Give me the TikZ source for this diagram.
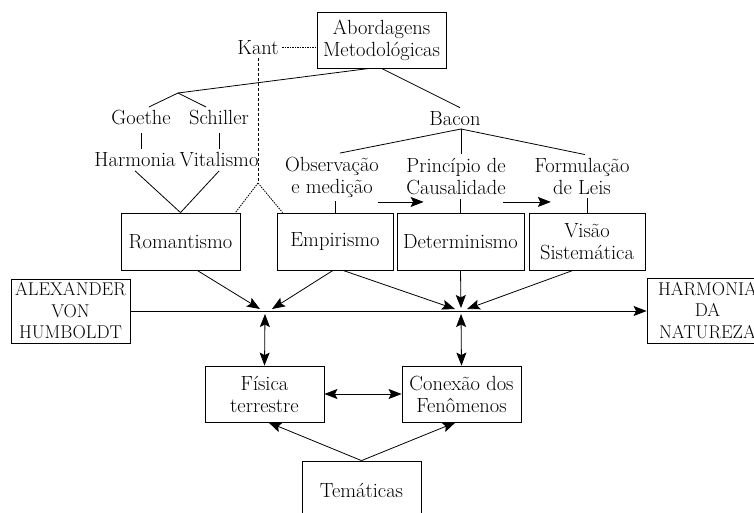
\documentclass[tikz,border=0pt]{standalone}
\usepackage{fontspec}
\usepackage{tikz}
\usetikzlibrary{arrows.meta,positioning,calc}

\begin{document}
\begin{tikzpicture}[x=1pt, y=-1pt, line width=0.8pt,
    every node/.style={font=\fontsize{20.5}{22}\selectfont, align=center},
    box/.style={draw, minimum width=119pt, minimum height=57pt, inner sep=3pt},
    caps/.style={font=\fontsize{18.5}{21.5}\selectfont},
    arr/.style={-{Stealth[length=13pt,width=10pt,inset=2.5pt]}},
    dbl/.style={{Stealth[length=13pt,width=10pt,inset=2.5pt]}-{Stealth[length=13pt,width=10pt,inset=2.5pt]}},
    kantdash/.style={dash pattern=on 3pt off 2pt},
    kantdot/.style={dash pattern=on 1.5pt off 1pt}]
    \useasboundingbox (0,0) rectangle (754,513);
    \clip (0,0) rectangle (754,513);

    % Top
    \node[box, minimum width=129pt, minimum height=56pt] (abm) at (381.5,40) {Abordagens\\Metodológicas};
    \node (kant) at (258,47.5) {Kant};
    \draw[kantdot] (kant.east) -- (kant.east -| abm.west);

    % Romantic branch
    \node (goe) at (141,118) {Goethe};
    \node (sch) at (219,118) {Schiller};
    \node (har) at (135,160) {Harmonia};
    \node (vit) at (219,160) {Vitalismo};
    \coordinate (gs) at (178,93);
    \draw ([xshift=-12]abm.south) -- (gs);
    \draw (gs) -- ([xshift=8]goe.north);
    \draw (gs) -- ([xshift=-13]sch.north);
    \draw[shorten <=4pt] (goe.south) -- (goe.south |- har.north);
    \draw[shorten <=4pt] (sch.south) -- (sch.south |- vit.north);

    % Bacon branch
    \node (bac) at (455,118.5) {Bacon};
    \node (obs) at (332,177) {Observação\\e medição};
    \node (pri) at (456,176.5) {Princípio de\\Causalidade};
    \node (frm) at (582,176.5) {Formulação\\de Leis};
    \coordinate (bc) at (461,129);
    \draw (abm.south) -- ([xshift=5]bac.north);
    \draw (bc) -- ([xshift=8]obs.north);
    \draw (bc) -- (bc |- pri.north);
    \draw (bc) -- ([xshift=3]frm.north);
    \coordinate (oa) at ([xshift=-5,yshift=-1]obs.south east);
    \coordinate (pa) at ([xshift=-6]oa -| pri.east);
    \draw[arr] (oa) -- ($(oa -| pri.west)+(21,0)$);
    \draw[arr] (pa) -- ($(pa -| frm.west)+(20,0)$);

    % Boxes
    \node[box] (roman) at (180.5,241.5) {Romantismo};
    \node[box, minimum width=116pt] (emp) at (335,241.5) {Empirismo};
    \node[box, minimum width=127pt] (det) at (460.5,241.5) {Determinismo};
    \node[box, minimum width=116pt] (vis) at (587,241.5) {Visão\\Sistemática};
    \draw (har.south) -- (roman.north);
    \draw (vit.south) -- (roman.north);
    \draw (emp.north) -- (emp.north |- obs.south);
    \draw (det.north) -- (det.north |- pri.south);
    \draw (vis.north) -- (vis.north |- frm.south);

    % Kant
    \coordinate (kd) at (258,183);
    \draw[kantdash] (kant.south) -- (kd);
    \draw[kantdot] (kd) -- ([xshift=-5]roman.north east);
    \draw[kantdot] (kd) -- ([xshift=6]emp.north west);

    % Humboldt line
    \node[box, caps, minimum height=64pt] (alx) at (70.5,311) {ALEXANDER\\VON\\HUMBOLDT};
    \node[box, caps, minimum width=121pt, minimum height=65pt] (hdn) at (707.5,310.5) {HARMONIA\\DA\\NATUREZA};
    \draw[arr] (alx.east) -- (alx.east -| hdn.west);
    \coordinate (jl) at (265,311);
    \coordinate (jr) at (461,311);
    \draw[arr] (roman.-60) -- ([xshift=-5,yshift=2]jl);
    \draw[arr] ([xshift=-2]emp.south) -- ([xshift=7,yshift=2]jl);
    \draw[arr] ([xshift=8]emp.south) -- ([xshift=-6,yshift=2]jr);
    \draw[arr] (det.south) -- ([yshift=3]jr);
    \draw[arr] ([xshift=-14]vis.south) -- ([xshift=6,yshift=2]jr);

    % Bottom
    \node[box, minimum height=56pt] (fis) at (264.5,394) {Física\\terrestre};
    \node[box, minimum height=56pt] (con) at (461.5,394) {Conexão dos\\Fenômenos};
    \node[box, minimum height=59pt] (tem) at (361.5,490.5) {Temáticas};
    \draw[dbl] ([yshift=-3]jl) -- (fis.north);
    \draw[dbl] ([yshift=-3]jr) -- (con.north);
    \draw[dbl] (fis.east) -- (con.west);
    \draw[arr] (tem.north) -- ([xshift=4]fis.south);
    \draw[arr] (tem.north) -- ([xshift=-6]con.south);
\end{tikzpicture}
\end{document}
